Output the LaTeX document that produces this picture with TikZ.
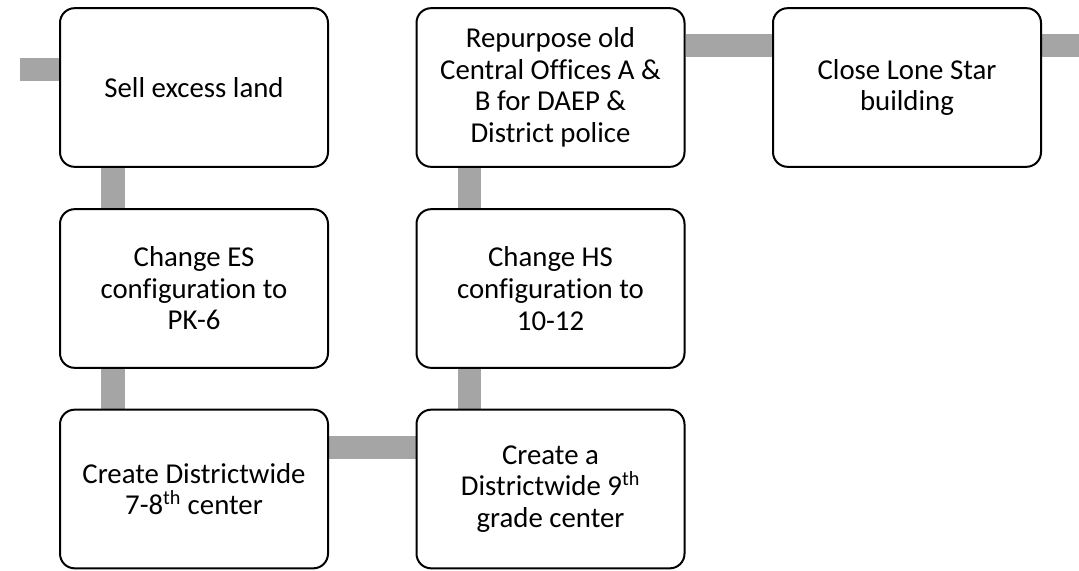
\documentclass[tikz,border=0pt]{standalone}
\usepackage{fontspec}
\setmainfont{Carlito}[Ligatures=NoCommon]
\usepackage{xcolor}
\usepackage{tikz}
\usetikzlibrary{calc,positioning,backgrounds}
\definecolor{edge}{HTML}{000000}
\definecolor{bar}{HTML}{A5A5A5}
\tikzset{
  stepbox/.style={draw=edge, fill=white, line width=1.5pt, rounded corners=11pt,
    minimum width=201pt, minimum height=119pt, align=center,
    font=\fontsize{21.6}{23.7}\selectfont, inner sep=0pt},
  link/.style={draw=bar, line width=17.5pt},
}

\begin{document}
\begin{tikzpicture}[x=0.75pt, y=-0.75pt]
  \useasboundingbox (0,0) rectangle (1079,571);

  \node[stepbox] (b1) at (194,87.5) {Sell excess land};
  \node[stepbox] (b2) at (194,288.5) {Change ES\\configuration to\\PK-6};
  \node[stepbox] (b3) at (194,489) {Create Districtwide\\7-8\textsuperscript{th} center};
  \node[stepbox] (b4) at (550.5,489) {Create a\\Districtwide 9\textsuperscript{th}\\grade center};
  \node[stepbox] (b5) at (550.5,288.5) {Change HS\\configuration to\\10-12};
  \node[stepbox] (b6) at (550.5,87.5) {Repurpose old\\Central Offices A \&\\B for DAEP \&\\District police};
  \node[stepbox] (b7) at (907,87.5) {Close Lone Star\\building};

  \coordinate (in) at (20,69.5);
  \coordinate (out) at (1079,45.5);

  \begin{pgfonlayer}{background}
    \draw[link] (in) -- (in -| b1.west);
    \draw[link] ($(b1.south west)+(54,0)$) -- ($(b2.north west)+(54,0)$);
    \draw[link] ($(b2.south west)+(54,0)$) -- ($(b3.north west)+(54,0)$);
    \draw[link] ($(b3.north east)+(0,38.5)$) -- ($(b4.north west)+(0,38.5)$);
    \draw[link] ($(b4.north west)+(54,0)$) -- ($(b5.south west)+(54,0)$);
    \draw[link] ($(b5.north west)+(54,0)$) -- ($(b6.south west)+(54,0)$);
    \draw[link] ($(b6.north east)+(0,38.5)$) -- ($(b7.north west)+(0,38.5)$);
    \draw[link] (out -| b7.east) -- (out);
  \end{pgfonlayer}
\end{tikzpicture}
\end{document}
